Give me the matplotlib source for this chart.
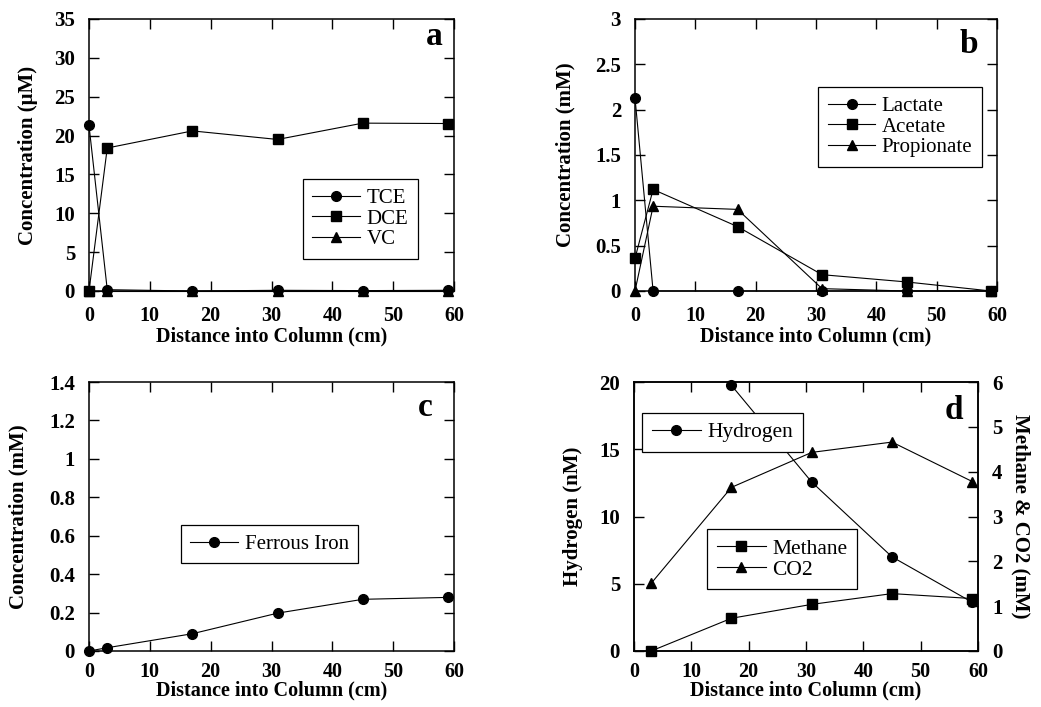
import numpy as np
import matplotlib
matplotlib.use("Agg")
import matplotlib.pyplot as plt

# distances along the column (cm)
dist = [0, 3, 17, 31, 45, 59]

# panel a, chlorinated ethenes (uM)
tce = [21.3, 0.17, 0.0, 0.09, 0.05, 0.09]
dce = [0.0, 18.4, 20.6, 19.5, 21.6, 21.55]
vc = [0.0, 0.0, 0.0, 0.0, 0.0, 0.0]

# panel b, organic acids (mM)
lactate = [2.13, 0.0, 0.0, 0.0, 0.0, 0.0]
acetate = [0.36, 1.12, 0.71, 0.18, 0.10, 0.0]
propionate = [0.0, 0.935, 0.90, 0.026, 0.0, 0.0]

# panel c, ferrous iron (mM)
ferrous = [0.0, 0.017, 0.09, 0.197, 0.269, 0.279]

# panel d
h2_dist = [17, 31, 45, 59]
hydrogen = [19.75, 12.56, 7.0, 3.62]          # nM
gas_dist = [3, 17, 31, 45, 59]
methane = [0.0, 0.73, 1.04, 1.28, 1.17]       # mM
co2 = [1.51, 3.65, 4.43, 4.66, 3.78]          # mM

xticks = [0, 10, 20, 30, 40, 50, 60]

plt.rcParams['font.family'] = ['Liberation Serif', 'DejaVu Serif']

W, H = 1041, 707
fig = plt.figure(figsize=(W / 100, H / 100), dpi=100)


def rect(l, t, r, b):
    return [l / W, 1 - b / H, (r - l) / W, (b - t) / H]


line_kw = dict(color='black', lw=0.8, ms=7, clip_on=False)
ytick_font = dict(fontsize=15, fontweight='bold')
xtick_font = dict(fontsize=14.5, fontweight='bold')
label_font = dict(fontsize=15, fontweight='bold')
xlabel_font = dict(fontsize=14.5, fontweight='bold')


def style(ax, ylim, yticks, ylabel, right=True, ylabelpad=6, top_row=False):
    ax.set_xlim(0, 60)
    ax.set_ylim(*ylim)
    ax.set_xticks(xticks)
    ax.set_yticks(yticks)
    ax.set_yticklabels([f'{v:g}' for v in yticks], **ytick_font)
    ax.set_xticklabels([str(v) for v in xticks], **xtick_font)
    ax.tick_params(direction='in', top=True, right=right, length=7, width=1)
    ax.tick_params(axis='x', pad=11 if top_row else 8)
    ax.tick_params(axis='y', pad=10)
    for s in ax.spines.values():
        s.set_linewidth(1.1)
    ax.set_xlabel('Distance into Column (cm)', labelpad=0 if top_row else -1,
                  **xlabel_font)
    ax.set_ylabel(ylabel, labelpad=ylabelpad, **label_font)


def legend(ax, handles, x, y, fs=15):
    lg = ax.legend(handles=handles, loc='upper left', bbox_to_anchor=(x, y),
                   borderaxespad=0, fancybox=False, edgecolor='black',
                   framealpha=1, fontsize=fs, handlelength=2.3,
                   handletextpad=0.3, labelspacing=0.05, borderpad=0.45,
                   numpoints=1)
    lg.get_frame().set_linewidth(0.9)
    return lg


def letter(ax, s, x, y):
    ax.text(x, y, s, transform=ax.transAxes, ha='right', va='baseline',
            fontsize=24, fontweight='bold')


# ---- a
ax = fig.add_axes(rect(89, 19, 454, 291))
h1, = ax.plot(dist, tce, marker='o', label='TCE', **line_kw)
h3, = ax.plot(dist, vc, marker='^', label='VC', **line_kw)
h2, = ax.plot(dist, dce, marker='s', label='DCE', **line_kw)
style(ax, (0, 35), [0, 5, 10, 15, 20, 25, 30, 35], 'Concentration (μM)',
      ylabelpad=12, top_row=True)
legend(ax, [h1, h2, h3], 0.586, 0.412)
letter(ax, 'a', 0.97, 0.904)

# ---- b
ax = fig.add_axes(rect(635, 19, 997, 291))
h1, = ax.plot(dist, lactate, marker='o', label='Lactate', **line_kw)
h2, = ax.plot(dist, acetate, marker='s', label='Acetate', **line_kw)
h3, = ax.plot(dist, propionate, marker='^', label='Propionate', **line_kw)
style(ax, (0, 3), [0, 0.5, 1, 1.5, 2, 2.5, 3], 'Concentration (mM)',
      ylabelpad=14, top_row=True)
legend(ax, [h1, h2, h3], 0.506, 0.75)
letter(ax, 'b', 0.947, 0.875)

# ---- c
ax = fig.add_axes(rect(89, 382, 454, 651))
h1, = ax.plot(dist, ferrous, marker='o', label='Ferrous Iron', **line_kw)
style(ax, (0, 1.4), [0, 0.2, 0.4, 0.6, 0.8, 1, 1.2, 1.4],
      'Concentration (mM)', ylabelpad=15)
legend(ax, [h1], 0.252, 0.469)
letter(ax, 'c', 0.942, 0.875)

# ---- d
ax = fig.add_axes(rect(634, 382, 978, 651))
h1, = ax.plot(h2_dist, hydrogen, marker='o', label='Hydrogen', **line_kw)
style(ax, (0, 20), [0, 5, 10, 15, 20], 'Hydrogen (nM)', right=False,
      ylabelpad=12)
ax2 = ax.twinx()
h2, = ax2.plot(gas_dist, methane, marker='s', label='Methane', **line_kw)
h3, = ax2.plot(gas_dist, co2, marker='^', label='CO2', **line_kw)
ax2.set_ylim(0, 6)
ax2.set_yticks(range(7))
ax2.set_yticklabels([str(v) for v in range(7)], **ytick_font)
ax2.tick_params(direction='in', length=7, width=1, pad=10)
for s in ax2.spines.values():
    s.set_linewidth(1.1)
ax2.set_ylabel('Methane & CO2 (mM)', rotation=270, labelpad=20, **label_font)
lg = legend(ax2, [h1], 0.023, 0.886, fs=15.5)
ax2.add_artist(lg)
legend(ax2, [h2, h3], 0.212, 0.454, fs=15.5)
letter(ax2, 'd', 0.956, 0.863)

fig.savefig('out.png', dpi=100)
